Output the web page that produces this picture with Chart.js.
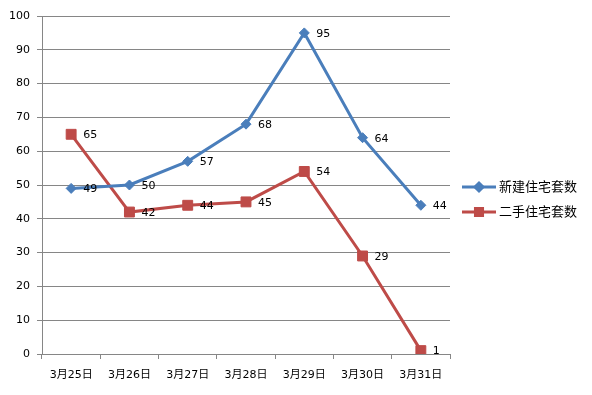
<!DOCTYPE html>
<html>
<head>
<meta charset="utf-8">
<script src="https://cdn.jsdelivr.net/npm/chart.js@4"></script>
<style>
  html, body { margin: 0; padding: 0; background: #fff; }
  #wrap { width: 592px; height: 395px; }
</style>
</head>
<body>
<div id="wrap"><canvas id="chart" width="592" height="395"></canvas></div>
<script>
const days = ['3月25日', '3月26日', '3月27日', '3月28日', '3月29日', '3月30日', '3月31日'];
const newHomes = [49, 50, 57, 68, 95, 64, 44];
const usedHomes = [65, 42, 44, 45, 54, 29, 1];
const seriesNames = ['新建住宅套数', '二手住宅套数'];

const blue = '#4A7EBB';
const red = '#BE4B48';
const gridColor = '#868686';
const fontFamily = 'Verdana, "DejaVu Sans", "Noto Sans CJK SC", sans-serif';

// labels next to each point
const pointLabels = {
  id: 'pointLabels',
  afterDatasetsDraw(chart) {
    const ctx = chart.ctx;
    ctx.save();
    ctx.font = '11px ' + fontFamily;
    ctx.fillStyle = '#000';
    ctx.textAlign = 'left';
    ctx.textBaseline = 'middle';
    chart.data.datasets.forEach((ds, i) => {
      chart.getDatasetMeta(i).data.forEach((pt, j) => {
        ctx.fillText(ds.data[j], pt.x + 12, pt.y + 1);
      });
    });
    ctx.restore();
  }
};

// legend on the right, line + small marker like the original
const legendRadius = [4, 5];
const sideLegend = {
  id: 'sideLegend',
  afterDraw(chart) {
    const ctx = chart.ctx;
    const rows = [187, 212];
    ctx.save();
    chart.data.datasets.forEach((ds, i) => {
      const y = rows[i];
      ctx.strokeStyle = ds.borderColor;
      ctx.lineWidth = 3;
      ctx.beginPath();
      ctx.moveTo(462, y);
      ctx.lineTo(496, y);
      ctx.stroke();
      Chart.helpers.drawPoint(ctx, {
        pointStyle: ds.pointStyle,
        radius: legendRadius[i],
        borderWidth: 1
      }, 479, y);
      ctx.fillStyle = ds.borderColor;
      ctx.fill();
      ctx.fillStyle = '#000';
      ctx.font = '13px ' + fontFamily;
      ctx.textAlign = 'left';
      ctx.textBaseline = 'middle';
      ctx.fillText(ds.label, 499, y + 1);
    });
    ctx.restore();
  }
};

new Chart(document.getElementById('chart'), {
  type: 'line',
  data: {
    labels: days,
    datasets: [{
      label: seriesNames[0],
      data: newHomes,
      borderColor: blue,
      backgroundColor: blue,
      borderWidth: 3,
      pointStyle: 'rectRot',
      pointRadius: 5,
      pointBorderWidth: 1,
      tension: 0
    }, {
      label: seriesNames[1],
      data: usedHomes,
      borderColor: red,
      backgroundColor: red,
      borderWidth: 3,
      pointStyle: 'rect',
      pointRadius: 7,
      pointBorderWidth: 1,
      tension: 0
    }]
  },
  options: {
    responsive: false,
    animation: false,
    layout: { padding: { top: 16, right: 142, left: 0, bottom: 0 } },
    plugins: {
      legend: { display: false },
      tooltip: { enabled: false }
    },
    scales: {
      x: {
        offset: true,
        grid: { offset: true, drawOnChartArea: false, drawTicks: true, tickLength: 5, color: gridColor },
        border: { color: gridColor },
        ticks: { color: '#000', padding: 10, font: { size: 11, family: fontFamily }, maxRotation: 0 },
        afterFit(scale) { scale.height = 41; }
      },
      y: {
        min: 0,
        max: 100,
        ticks: { stepSize: 10, color: '#000', padding: 7, font: { size: 11, family: fontFamily } },
        grid: { color: gridColor, tickLength: 5 },
        border: { color: gridColor },
        afterFit(scale) { scale.width = 42; }
      }
    }
  },
  plugins: [pointLabels, sideLegend]
});
</script>
</body>
</html>
